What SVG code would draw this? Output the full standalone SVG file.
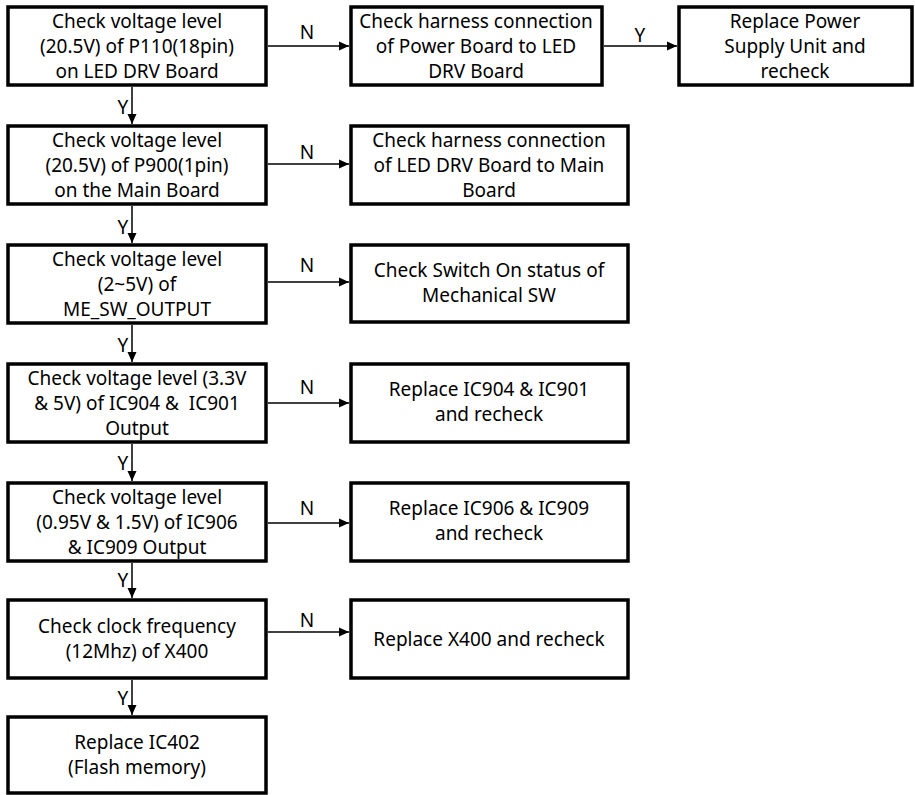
<svg xmlns="http://www.w3.org/2000/svg" width="915" height="795" viewBox="0 0 915 795">
  <style>
    .box { fill: #ffffff; stroke: #000000; stroke-width: 3.5; }
    .lbl { font-family: "Noto Sans", "Open Sans", sans-serif; font-size: 19px; fill: #000000; text-anchor: middle; }
    .yn { font-family: "Noto Sans", "Open Sans", sans-serif; font-size: 19px; fill: #000000; text-anchor: middle; }
    .wire { stroke: #000000; stroke-width: 1.5; fill: none; marker-end: url(#arrow); }
  </style>
  <defs>
    <marker id="arrow" viewBox="0 0 10 10" refX="10" refY="5" markerWidth="10" markerHeight="10" markerUnits="userSpaceOnUse" orient="auto">
      <path d="M0,0.5 L10,5 L0,9.5 Z" fill="#000000"/>
    </marker>
  </defs>

  <rect width="915" height="795" fill="#ffffff"/>

  <!-- main chain of checks -->
  <g id="check-p110">
    <rect class="box" x="8" y="7" width="258" height="78"/>
    <text class="lbl"><tspan x="137" y="28">Check voltage level</tspan><tspan x="137" y="53">(20.5V) of P110(18pin)</tspan><tspan x="137" y="78">on LED DRV Board</tspan></text>
  </g>
  <g id="check-p900">
    <rect class="box" x="8" y="126" width="258" height="78"/>
    <text class="lbl"><tspan x="137" y="147">Check voltage level</tspan><tspan x="137" y="172">(20.5V) of P900(1pin)</tspan><tspan x="137" y="197">on the Main Board</tspan></text>
  </g>
  <g id="check-me-sw">
    <rect class="box" x="8" y="245" width="258" height="78"/>
    <text class="lbl"><tspan x="137" y="266">Check voltage level</tspan><tspan x="137" y="291">(2~5V) of</tspan><tspan x="137" y="316">ME_SW_OUTPUT</tspan></text>
  </g>
  <g id="check-ic904-ic901">
    <rect class="box" x="8" y="364" width="258" height="78"/>
    <text class="lbl" xml:space="preserve"><tspan x="137" y="385">Check voltage level (3.3V</tspan><tspan x="137" y="410">&amp; 5V) of IC904 &amp;  IC901</tspan><tspan x="137" y="435">Output</tspan></text>
  </g>
  <g id="check-ic906-ic909">
    <rect class="box" x="8" y="483" width="258" height="78"/>
    <text class="lbl"><tspan x="137" y="504">Check voltage level</tspan><tspan x="137" y="529">(0.95V &amp; 1.5V) of IC906</tspan><tspan x="137" y="554">&amp; IC909 Output</tspan></text>
  </g>
  <g id="check-x400">
    <rect class="box" x="8" y="600" width="258" height="78"/>
    <text class="lbl"><tspan x="137" y="633">Check clock frequency</tspan><tspan x="137" y="658">(12Mhz) of X400</tspan></text>
  </g>
  <g id="replace-ic402">
    <rect class="box" x="8" y="717" width="258" height="76"/>
    <text class="lbl"><tspan x="137" y="749">Replace IC402</tspan><tspan x="137" y="774">(Flash memory)</tspan></text>
  </g>

  <!-- actions on failure -->
  <g id="harness-power-led">
    <rect class="box" x="351" y="7" width="251" height="78"/>
    <text class="lbl"><tspan x="476" y="28">Check harness connection</tspan><tspan x="476" y="53">of Power Board to LED</tspan><tspan x="476" y="78">DRV Board</tspan></text>
  </g>
  <g id="replace-psu">
    <rect class="box" x="679" y="7" width="233" height="78"/>
    <text class="lbl"><tspan x="795" y="28">Replace Power</tspan><tspan x="795" y="53">Supply Unit and</tspan><tspan x="795" y="78">recheck</tspan></text>
  </g>
  <g id="harness-led-main">
    <rect class="box" x="351" y="126" width="277" height="78"/>
    <text class="lbl"><tspan x="489" y="147">Check harness connection</tspan><tspan x="489" y="172">of LED DRV Board to Main</tspan><tspan x="489" y="197">Board</tspan></text>
  </g>
  <g id="check-mech-sw">
    <rect class="box" x="351" y="245" width="277" height="77"/>
    <text class="lbl"><tspan x="489" y="277">Check Switch On status of</tspan><tspan x="489" y="302">Mechanical SW</tspan></text>
  </g>
  <g id="replace-ic904-ic901">
    <rect class="box" x="351" y="364" width="277" height="78"/>
    <text class="lbl"><tspan x="489" y="396">Replace IC904 &amp; IC901</tspan><tspan x="489" y="421">and recheck</tspan></text>
  </g>
  <g id="replace-ic906-ic909">
    <rect class="box" x="351" y="483" width="277" height="78"/>
    <text class="lbl"><tspan x="489" y="515">Replace IC906 &amp; IC909</tspan><tspan x="489" y="540">and recheck</tspan></text>
  </g>
  <g id="replace-x400">
    <rect class="box" x="351" y="600" width="277" height="78"/>
    <text class="lbl"><tspan x="489" y="646">Replace X400 and recheck</tspan></text>
  </g>

  <!-- connectors -->
  <g id="connectors">
    <line class="wire" x1="268" y1="46" x2="349" y2="46"/>
    <line class="wire" x1="604" y1="46" x2="677" y2="46"/>
    <line class="wire" x1="268" y1="164" x2="349" y2="164"/>
    <line class="wire" x1="268" y1="282" x2="349" y2="282"/>
    <line class="wire" x1="268" y1="403" x2="349" y2="403"/>
    <line class="wire" x1="268" y1="523" x2="349" y2="523"/>
    <line class="wire" x1="268" y1="632" x2="349" y2="632"/>

    <line class="wire" x1="132" y1="87" x2="132" y2="124"/>
    <line class="wire" x1="132" y1="206" x2="132" y2="243"/>
    <line class="wire" x1="132" y1="325" x2="132" y2="362"/>
    <line class="wire" x1="132" y1="444" x2="132" y2="481"/>
    <line class="wire" x1="132" y1="563" x2="132" y2="598"/>
    <line class="wire" x1="132" y1="680" x2="132" y2="715"/>

    <text class="yn" x="307" y="39">N</text>
    <text class="yn" x="640" y="42">Y</text>
    <text class="yn" x="307" y="159">N</text>
    <text class="yn" x="307" y="272">N</text>
    <text class="yn" x="307" y="394">N</text>
    <text class="yn" x="307" y="515">N</text>
    <text class="yn" x="307" y="627">N</text>

    <text class="yn" x="123" y="114">Y</text>
    <text class="yn" x="123" y="234">Y</text>
    <text class="yn" x="123" y="352">Y</text>
    <text class="yn" x="123" y="470">Y</text>
    <text class="yn" x="123" y="587">Y</text>
    <text class="yn" x="123" y="705">Y</text>
  </g>
</svg>
